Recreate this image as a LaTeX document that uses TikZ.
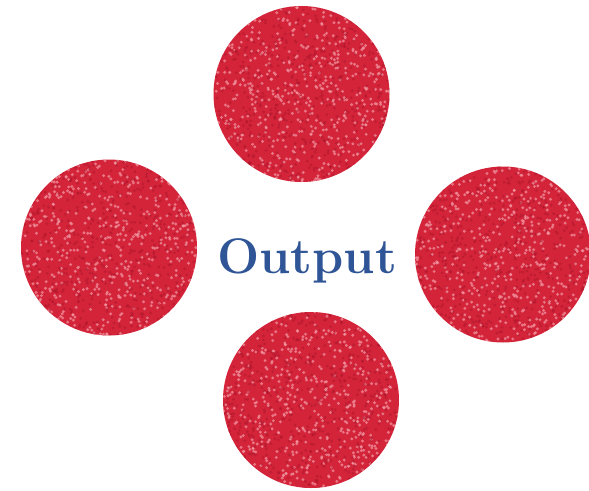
\documentclass[tikz,border=0pt]{standalone}
\usepackage{xcolor}
\usepackage{tikz}
\usetikzlibrary{calc}
\definecolor{GlitterRed}{HTML}{D4243A}
\definecolor{GlitterDark}{HTML}{A8142A}
\definecolor{GlitterPink}{HTML}{F29AA4}
\definecolor{OutputBlue}{HTML}{2F5597}
\tikzset{
  glitter/.style={circle, fill=GlitterRed, minimum size=176pt, inner sep=0pt,
    path picture={
      \foreach \k in {1,...,650} {
        \fill[GlitterPink, opacity=0.7]
          ($(path picture bounding box.center)+(rand*90pt, rand*90pt)$) circle (1.6pt);
        \fill[GlitterDark, opacity=0.45]
          ($(path picture bounding box.center)+(rand*90pt, rand*90pt)$) circle (1.6pt);
      }
    }},
  hub/.style={text=OutputBlue, font=\fontsize{50}{60}\selectfont\bfseries, inner sep=0pt}
}
\pgfmathsetseed{7}

\begin{document}
\begin{tikzpicture}[x=1pt, y=-1pt]
  \useasboundingbox (0,0) rectangle (589,490);
  \node[glitter] (upper) at (301.5,94) {};
  \node[glitter] (westc) at (109,247.5) {};
  \node[glitter] (eastc) at (503,254.5) {};
  \node[glitter] (lower) at (311,400) {};
  \node[hub, anchor=base] (out) at (307,273) {Output};
\end{tikzpicture}
\end{document}
